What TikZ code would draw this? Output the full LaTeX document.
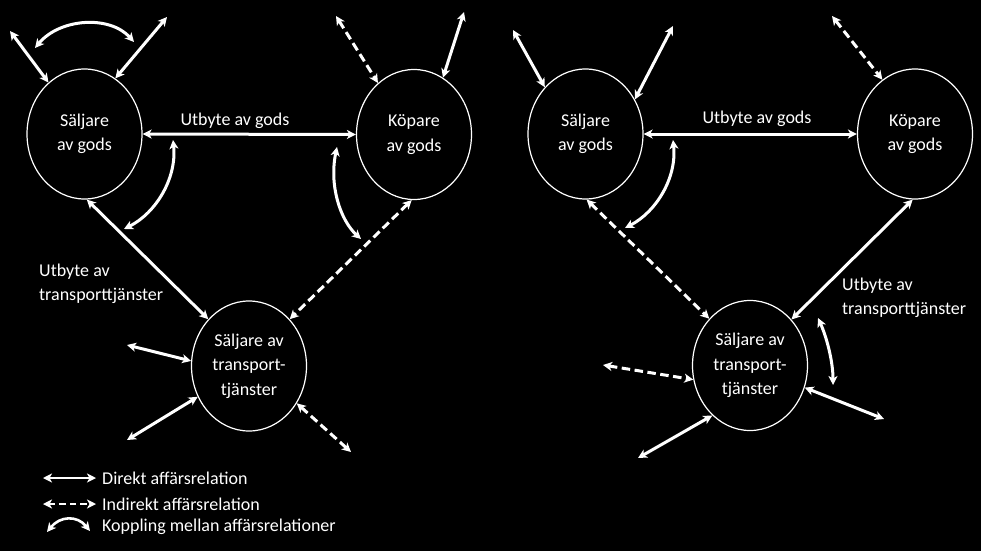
\documentclass[tikz,border=0pt]{standalone}
\usepackage{fontspec}
\setmainfont{Carlito}
\usetikzlibrary{arrows.meta,shapes.geometric}
\tikzset{
  actor/.style={ellipse, draw=white, line width=1.2pt, minimum width=115pt, minimum height=130pt, inner sep=0pt, align=center, text=white, font=\fontsize{18}{24.5}\selectfont},
  lbl/.style={text=white, font=\fontsize{18}{24}\selectfont, inner sep=0pt},
  rel/.style={draw=white, line width=3pt, {Stealth[length=9pt,width=9pt,inset=2.5pt]}-{Stealth[length=9pt,width=9pt,inset=2.5pt]}},
  indrel/.style={rel, dash pattern=on 8.5pt off 4.5pt},
  coupling/.style={rel}
}
\begin{document}
\begin{tikzpicture}[x=1pt,y=-1pt]
\fill[black] (0,0) rectangle (981,551);
\useasboundingbox (0,0) rectangle (981,551);

% ---------- Left diagram ----------
\node[actor] (L1) at (84.5,134) {Säljare\\av gods};
\node[actor] (L2) at (414,134.5) {Köpare\\av gods};
\node[actor] (L3) at (249,366) {Säljare av\\transport-\\tjänster};

\coordinate (l1tl) at (10,31);
\coordinate (l1tr) at (167,17);
\coordinate (l2td) at (336,16);
\coordinate (l2tr) at (464,12);
\coordinate (l3l) at (127,345);
\coordinate (l3ll) at (127,440);
\coordinate (l3lr) at (351,452);
\coordinate (c1a) at (35,48);
\coordinate (c1b) at (134,42);
\coordinate (c2a) at (173,140);
\coordinate (c2b) at (124,229);
\coordinate (c3a) at (337,147);
\coordinate (c3b) at (361,239);

\draw[rel] (l1tl) -- (L1.125);
\draw[rel] (L1.61) -- (l1tr);
\draw[coupling] (c1a) .. controls (60,18) and (110,15) .. (c1b);
\draw[rel] (L1.east) -- (L2.west);
\node[lbl] (ug1) at (235,121) {Utbyte av gods};
\draw[coupling] (c2a) .. controls (177,178) and (156,213) .. (c2b);
\draw[coupling] (c3a) .. controls (329,185) and (340,220) .. (c3b);
\draw[indrel] (l2td) -- (L2.125);
\draw[rel] (L2.63) -- (l2tr);
\draw[rel] (L1.-88) -- (L3.131);
\node[lbl, anchor=west, align=left] (ut1) at (39,283.5) {Utbyte av\\transporttjänster};
\draw[indrel] (L2.-92) -- (L3.49);
\draw[rel] (l3l) -- (L3.175);
\draw[rel] (l3ll) -- (L3.-149);
\draw[indrel] (L3.-38) -- (l3lr);

% ---------- Legend ----------
\coordinate (lg1a) at (43,478);
\coordinate (lg1b) at (96,478);
\coordinate (lg2a) at (43,504);
\coordinate (lg2b) at (96,504);
\coordinate (lg3a) at (47,532);
\coordinate (lg3b) at (90,531);
\draw[rel, line width=2.6pt] (lg1a) -- (lg1b);
\draw[indrel, line width=2.6pt, dash pattern=on 6.5pt off 4pt] (lg2a) -- (lg2b);
\draw[coupling, line width=2.6pt] (lg3a) .. controls (60,516) and (77,515) .. (lg3b);
\node[lbl, anchor=west] (t1) at (102,478) {Direkt affärsrelation};
\node[lbl, anchor=west] (t2) at (102,504) {Indirekt affärsrelation};
\node[lbl, anchor=west] (t3) at (102,527) {Koppling mellan affärsrelationer};

% ---------- Right diagram ----------
\node[actor] (R1) at (585.5,134) {Säljare\\av gods};
\node[actor] (R2) at (915,134) {Köpare\\av gods};
\node[actor] (R3) at (750,365.5) {Säljare av\\transport-\\tjänster};

\coordinate (r1tl) at (513,30);
\coordinate (r1tr) at (673,26);
\coordinate (r2td) at (832,16);
\coordinate (r3l) at (603,365);
\coordinate (r3ll) at (638,458);
\coordinate (r3r) at (884,419);
\coordinate (d1a) at (673,140);
\coordinate (d1b) at (625,228);
\coordinate (d2a) at (818,318);
\coordinate (d2b) at (833,385);

\draw[rel] (r1tl) -- (R1.131);
\draw[rel] (R1.35) -- (r1tr);
\draw[rel] (R1.east) -- (R2.west);
\node[lbl] (ug2) at (757,119) {Utbyte av gods};
\draw[coupling] (d1a) .. controls (677,178) and (656,212) .. (d1b);
\draw[indrel] (r2td) -- (R2.121);
\draw[indrel] (R1.-89) -- (R3.131);
\draw[rel] (R2.-92) -- (R3.48.5);
\node[lbl, anchor=west, align=left] (ut2) at (842,297.5) {Utbyte av\\transporttjänster};
\draw[coupling] (d2a) .. controls (827,338) and (833,362) .. (d2b);
\draw[indrel] (r3l) -- (R3.-166);
\draw[rel] (r3ll) -- (R3.-127.5);
\draw[rel] (R3.-22) -- (r3r);
\end{tikzpicture}
\end{document}
